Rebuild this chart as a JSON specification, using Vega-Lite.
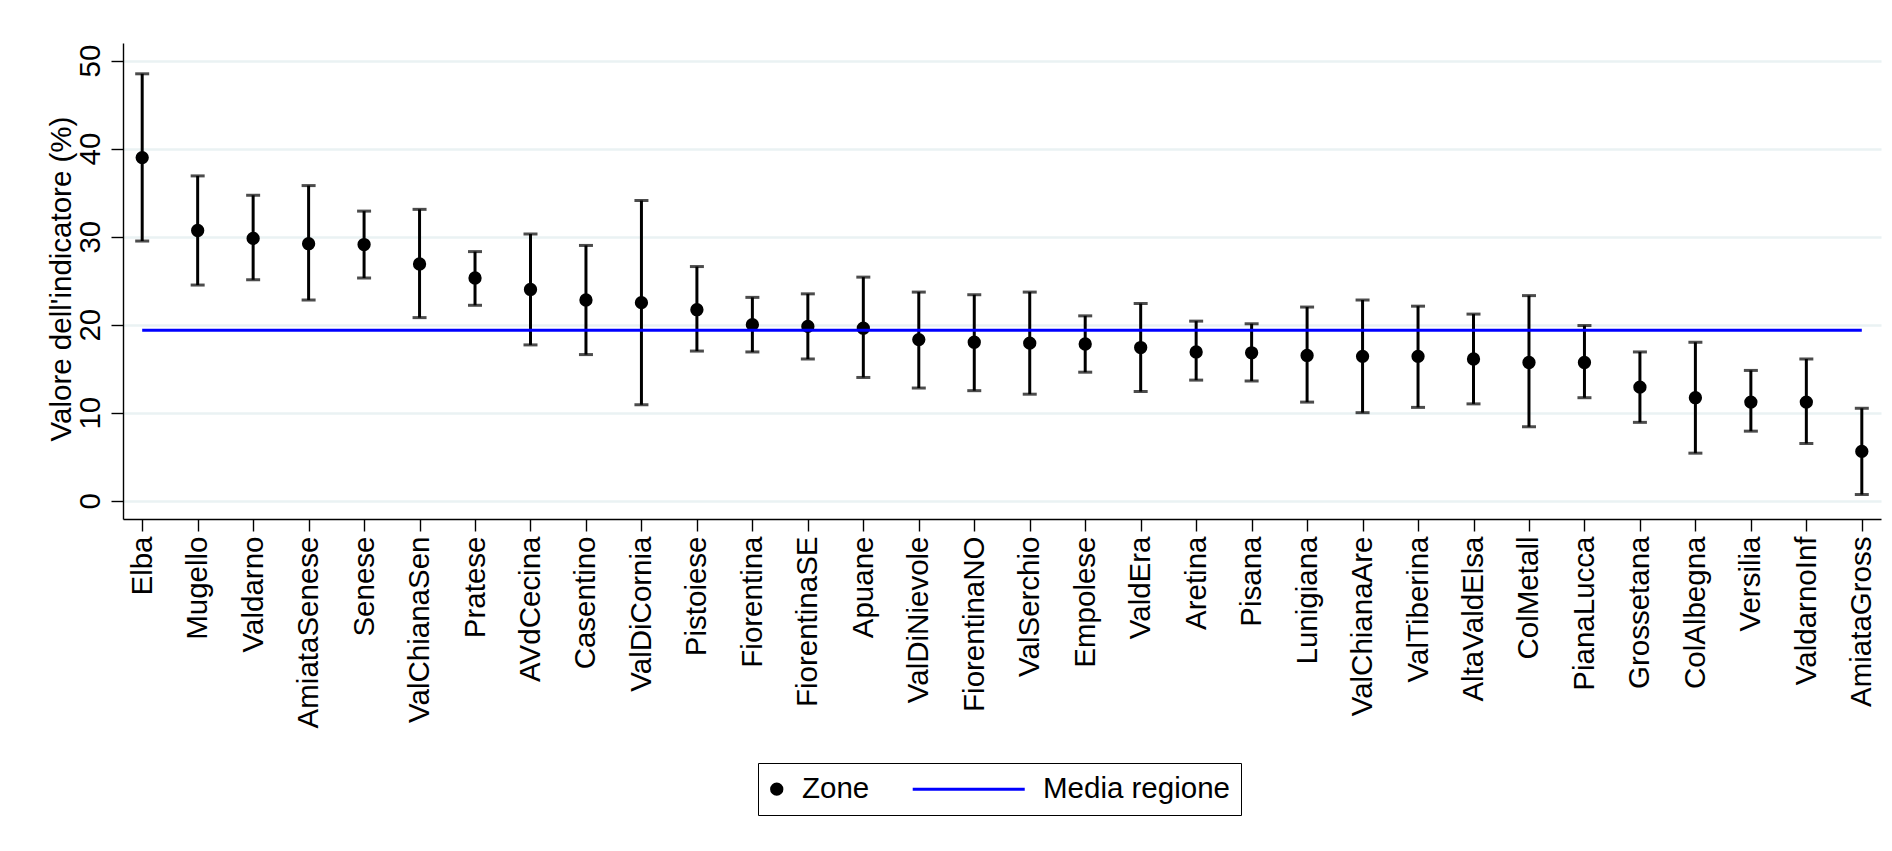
{
  "$schema": "https://vega.github.io/schema/vega-lite/v6.json",
  "autosize": {"type": "none"},
  "padding": {"left": 123, "top": 43, "right": 11, "bottom": 332},
  "width": 1758,
  "height": 476,
  "background": "#ffffff",
  "config": {
    "view": {"stroke": null},
    "font": "Liberation Sans",
    "axis": {
      "labelFont": "Liberation Sans",
      "titleFont": "Liberation Sans",
      "labelColor": "#000000",
      "titleColor": "#000000",
      "domainColor": "#000000",
      "tickColor": "#000000",
      "domainWidth": 1.4,
      "tickWidth": 1.4
    }
  },
  "datasets": {
    "zones": [
      {"zone": "Elba", "val": 38.98, "lo": 29.5, "hi": 48.5, "series": "Zone"},
      {"zone": "Mugello", "val": 30.7, "lo": 24.5, "hi": 36.9, "series": "Zone"},
      {"zone": "Valdarno", "val": 29.8, "lo": 25.1, "hi": 34.7, "series": "Zone"},
      {"zone": "AmiataSenese", "val": 29.2, "lo": 22.8, "hi": 35.8, "series": "Zone"},
      {"zone": "Senese", "val": 29.1, "lo": 25.3, "hi": 32.9, "series": "Zone"},
      {"zone": "ValChianaSen", "val": 26.9, "lo": 20.8, "hi": 33.1, "series": "Zone"},
      {"zone": "Pratese", "val": 25.3, "lo": 22.2, "hi": 28.3, "series": "Zone"},
      {"zone": "AVdCecina", "val": 24.0, "lo": 17.7, "hi": 30.3, "series": "Zone"},
      {"zone": "Casentino", "val": 22.8, "lo": 16.6, "hi": 29.0, "series": "Zone"},
      {"zone": "ValDiCornia", "val": 22.5, "lo": 10.9, "hi": 34.1, "series": "Zone"},
      {"zone": "Pistoiese", "val": 21.7, "lo": 17.0, "hi": 26.6, "series": "Zone"},
      {"zone": "Fiorentina", "val": 20.0, "lo": 16.9, "hi": 23.1, "series": "Zone"},
      {"zone": "FiorentinaSE", "val": 19.8, "lo": 16.1, "hi": 23.5, "series": "Zone"},
      {"zone": "Apuane", "val": 19.6, "lo": 14.0, "hi": 25.4, "series": "Zone"},
      {"zone": "ValDiNievole", "val": 18.3, "lo": 12.8, "hi": 23.7, "series": "Zone"},
      {"zone": "FiorentinaNO", "val": 18.0, "lo": 12.5, "hi": 23.4, "series": "Zone"},
      {"zone": "ValSerchio", "val": 17.9, "lo": 12.1, "hi": 23.7, "series": "Zone"},
      {"zone": "Empolese", "val": 17.8, "lo": 14.6, "hi": 21.0, "series": "Zone"},
      {"zone": "ValdEra", "val": 17.4, "lo": 12.4, "hi": 22.4, "series": "Zone"},
      {"zone": "Aretina", "val": 16.9, "lo": 13.7, "hi": 20.4, "series": "Zone"},
      {"zone": "Pisana", "val": 16.8, "lo": 13.6, "hi": 20.1, "series": "Zone"},
      {"zone": "Lunigiana", "val": 16.5, "lo": 11.2, "hi": 22.0, "series": "Zone"},
      {"zone": "ValChianaAre", "val": 16.4, "lo": 10.0, "hi": 22.8, "series": "Zone"},
      {"zone": "ValTiberina", "val": 16.4, "lo": 10.6, "hi": 22.1, "series": "Zone"},
      {"zone": "AltaValdElsa", "val": 16.1, "lo": 11.0, "hi": 21.2, "series": "Zone"},
      {"zone": "ColMetall", "val": 15.7, "lo": 8.4, "hi": 23.3, "series": "Zone"},
      {"zone": "PianaLucca", "val": 15.7, "lo": 11.7, "hi": 19.9, "series": "Zone"},
      {"zone": "Grossetana", "val": 12.9, "lo": 8.9, "hi": 16.9, "series": "Zone"},
      {"zone": "ColAlbegna", "val": 11.7, "lo": 5.4, "hi": 18.0, "series": "Zone"},
      {"zone": "Versilia", "val": 11.2, "lo": 7.9, "hi": 14.8, "series": "Zone"},
      {"zone": "ValdarnoInf", "val": 11.2, "lo": 6.5, "hi": 16.1, "series": "Zone"},
      {"zone": "AmiataGross", "val": 5.6, "lo": 0.7, "hi": 10.5, "series": "Zone"}
    ],
    "media": [
      {"zone": "Elba", "media": 19.36},
      {"zone": "AmiataGross", "media": 19.36}
    ]
  },
  "layer": [
    {
      "data": {"name": "zones"},
      "mark": {"type": "rule", "color": "#000000", "strokeWidth": 3},
      "encoding": {
        "x": {
          "field": "zone", "type": "nominal", "sort": null,
          "scale": {"type": "point", "padding": 0.346},
          "axis": {
            "title": null,
            "labelAngle": -90,
            "labelAlign": "right",
            "labelBaseline": "middle",
            "labelFontSize": 29.5,
            "labelPadding": 5,
            "labelLimit": 500,
            "labelOverlap": false,
            "tickSize": 12,
            "grid": false
          }
        },
        "y": {
          "field": "lo", "type": "quantitative",
          "scale": {"domain": [-2.08, 52.0], "nice": false, "zero": false},
          "axis": {
            "title": "Valore dell'indicatore (%)",
            "titleFontSize": 29.5,
            "titleFontWeight": "normal",
            "titleAngle": -90,
            "titleAlign": "center",
            "titleBaseline": "alphabetic",
            "titleX": -53,
            "titleY": 235.5,
            "values": [0, 10, 20, 30, 40, 50],
            "labelAngle": -90,
            "labelAlign": "center",
            "labelBaseline": "alphabetic",
            "labelFontSize": 29.5,
            "labelPadding": 12,
            "tickSize": 12,
            "grid": true,
            "gridColor": "#EAF2F3",
            "gridWidth": 2.7
          }
        },
        "y2": {"field": "hi"}
      }
    },
    {
      "data": {"name": "zones"},
      "mark": {"type": "tick", "color": "#000000", "orient": "horizontal", "size": 14, "thickness": 3},
      "encoding": {
        "x": {"field": "zone", "type": "nominal", "sort": null},
        "y": {"field": "lo", "type": "quantitative"}
      }
    },
    {
      "data": {"name": "zones"},
      "mark": {"type": "tick", "color": "#000000", "orient": "horizontal", "size": 14, "thickness": 3},
      "encoding": {
        "x": {"field": "zone", "type": "nominal", "sort": null},
        "y": {"field": "hi", "type": "quantitative"}
      }
    },
    {
      "data": {"name": "zones"},
      "mark": {"type": "point", "filled": true, "opacity": 1, "size": 177},
      "encoding": {
        "x": {"field": "zone", "type": "nominal", "sort": null},
        "y": {"field": "val", "type": "quantitative"},
        "color": {
          "field": "series", "type": "nominal",
          "scale": {"domain": ["Zone", "Media regione"], "range": ["#000000", "#0000ff"]},
          "legend": {
            "title": null,
            "orient": "none",
            "legendX": 635,
            "legendY": 720,
            "direction": "horizontal",
            "strokeColor": "#000000",
            "fillColor": "#ffffff",
            "padding": 11,
            "labelFont": "Liberation Sans",
            "labelFontSize": 29.5,
            "labelColor": "#000000",
            "labelOffset": 10.5,
            "labelLimit": 500,
            "columnPadding": 36,
            "symbolSize": 177,
            "symbolOffset": -7,
            "symbolStrokeWidth": 3,
            "symbolOpacity": 1,
            "encode": {
              "symbols": {
                "update": {
                  "stroke": {"signal": "datum.value === 'Zone' ? 'transparent' : '#0000ff'"},
                  "fill": {"signal": "datum.value === 'Zone' ? '#000000' : 'transparent'"},
                  "strokeWidth": {"signal": "datum.value === 'Zone' ? 0 : 3"}
                }
              }
            }
          }
        },
        "shape": {
          "field": "series", "type": "nominal",
          "scale": {"domain": ["Zone", "Media regione"], "range": ["circle", "M-15.79,0H1.05"]}
        }
      }
    },
    {
      "data": {"name": "media"},
      "mark": {"type": "line", "color": "#0000ff", "strokeWidth": 3},
      "encoding": {
        "x": {"field": "zone", "type": "nominal", "sort": null},
        "y": {"field": "media", "type": "quantitative"}
      }
    }
  ]
}
